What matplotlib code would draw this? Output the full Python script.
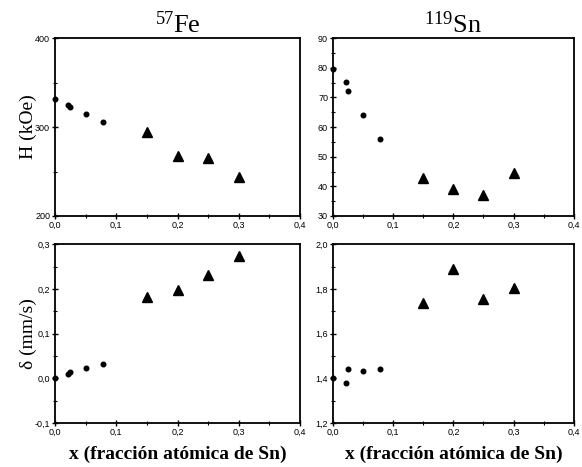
import numpy as np
import matplotlib
matplotlib.use("Agg")
import matplotlib.pyplot as plt
from matplotlib.ticker import MultipleLocator, FuncFormatter

plt.rcParams['mathtext.fontset'] = 'custom'
plt.rcParams['mathtext.rm'] = 'Liberation Serif'
plt.rcParams['mathtext.it'] = 'Liberation Serif:italic'

# data
x_circ = [0.0, 0.022, 0.025, 0.05, 0.078]
x_tri = [0.15, 0.20, 0.25, 0.30]

fe_H_circ = [331, 325, 323, 315, 306]
fe_H_tri = [294, 267, 265, 244]
sn_H_circ = [79.6, 75.2, 72.0, 63.9, 55.9]
sn_H_tri = [42.9, 39.1, 37.2, 44.4]

fe_d_circ = [0.0, 0.010, 0.013, 0.024, 0.033]
fe_d_tri = [0.181, 0.197, 0.230, 0.274]
sn_d_circ = [1.40, 1.38, 1.443, 1.431, 1.443]
sn_d_tri = [1.735, 1.888, 1.754, 1.806]

serif = 'Liberation Serif'
sans = 'Liberation Sans'


def int_fmt(v, pos):
    return '%d' % round(v)


def dec_fmt(v, pos):
    return ('%.1f' % v).replace('.', ',')


def style(ax, ylim, ymaj, ymin, yfmt):
    ax.set_xlim(0, 0.4)
    ax.set_ylim(*ylim)
    ax.xaxis.set_major_locator(MultipleLocator(0.1))
    ax.xaxis.set_minor_locator(MultipleLocator(0.05))
    ax.yaxis.set_major_locator(MultipleLocator(ymaj))
    ax.yaxis.set_minor_locator(MultipleLocator(ymin))
    ax.xaxis.set_major_formatter(FuncFormatter(dec_fmt))
    ax.yaxis.set_major_formatter(FuncFormatter(yfmt))
    ax.tick_params(which='major', direction='inout', length=4, width=1, pad=1.5)
    ax.tick_params(which='minor', direction='inout', length=2.5, width=0.8)
    for lab in ax.get_xticklabels() + ax.get_yticklabels():
        lab.set_fontfamily(sans)
        lab.set_fontsize(6.5)
    for s in ax.spines.values():
        s.set_linewidth(1.3)


fig = plt.figure(figsize=(5.82, 4.67), dpi=100)
ax1 = fig.add_axes([0.0945, 0.5375, 0.421, 0.381])
ax2 = fig.add_axes([0.572, 0.5375, 0.414, 0.381])
ax3 = fig.add_axes([0.0945, 0.0942, 0.421, 0.383])
ax4 = fig.add_axes([0.572, 0.0942, 0.414, 0.383])

ms_c = 3.3
ms_t = 7
for ax, yc, yt in [(ax1, fe_H_circ, fe_H_tri), (ax2, sn_H_circ, sn_H_tri),
                   (ax3, fe_d_circ, fe_d_tri), (ax4, sn_d_circ, sn_d_tri)]:
    ax.plot(x_circ, yc, 'o', color='black', ms=ms_c, clip_on=False)
    ax.plot(x_tri, yt, '^', color='black', ms=ms_t, clip_on=False)

style(ax1, (200, 400), 100, 50, int_fmt)
style(ax2, (30, 90), 10, 5, int_fmt)
style(ax3, (-0.1, 0.3), 0.1, 0.05, dec_fmt)
style(ax4, (1.2, 2.0), 0.2, 0.1, dec_fmt)

ax1.set_title(r'$^{57}$Fe', fontfamily=serif, fontsize=19, pad=2)
ax2.set_title(r'$^{119}$Sn', fontfamily=serif, fontsize=19, pad=2)

ax1.set_ylabel('H (kOe)', fontfamily=serif, fontsize=14, labelpad=-1)
ax3.set_ylabel('δ (mm/s)', fontfamily=serif, fontsize=14, labelpad=-2)
ax3.set_xlabel('x (fracción atómica de Sn)', fontfamily=serif, fontsize=14,
               fontweight='bold', labelpad=6)
ax4.set_xlabel('x (fracción atómica de Sn)', fontfamily=serif, fontsize=14,
               fontweight='bold', labelpad=6)

fig.savefig('out.png', dpi=100)
